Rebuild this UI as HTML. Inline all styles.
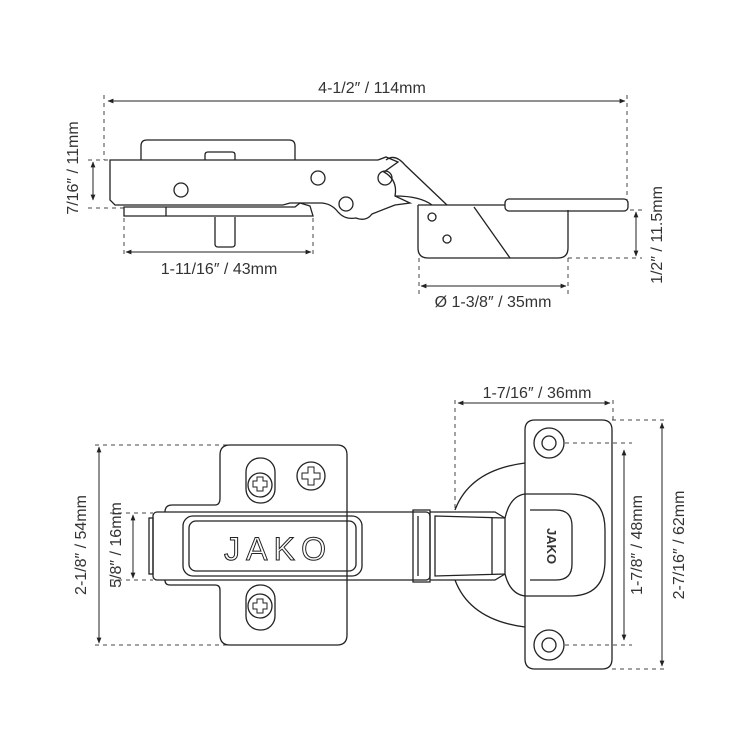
<!DOCTYPE html>
<html><head><meta charset="utf-8"><style>
html,body{margin:0;padding:0;background:#fff;}
svg{display:block}
text{font-family:"Liberation Sans",sans-serif;font-size:16px;fill:#333}
</style></head><body>
<svg width="750" height="750" viewBox="0 0 750 750" xmlns="http://www.w3.org/2000/svg">
<defs>
<marker id="a" viewBox="0 0 10 10" refX="9" refY="5" markerWidth="6" markerHeight="6" orient="auto-start-reverse"><path d="M0,1 L10,5 L0,9 z" fill="#222"/></marker>
</defs>
<g fill="none" stroke="#222" stroke-width="1.3">
<g stroke-dasharray="4,4" stroke="#444" stroke-width="1">
<line x1="104" y1="95" x2="104" y2="160"/><line x1="627" y1="95" x2="627" y2="200"/>
<line x1="88" y1="160" x2="110" y2="160"/><line x1="88" y1="208" x2="124" y2="208"/>
<line x1="124" y1="218" x2="124" y2="256"/><line x1="313" y1="218" x2="313" y2="256"/>
<line x1="419" y1="258" x2="419" y2="295"/><line x1="568" y1="258" x2="568" y2="295"/>
<line x1="630" y1="210" x2="642" y2="210"/><line x1="568" y1="258" x2="642" y2="258"/>
<line x1="95" y1="445" x2="240" y2="445"/><line x1="95" y1="645" x2="240" y2="645"/>
<line x1="110" y1="513" x2="153" y2="513"/><line x1="110" y1="580" x2="153" y2="580"/>
<line x1="455" y1="400" x2="455" y2="510"/><line x1="613" y1="400" x2="613" y2="420"/>
<line x1="565" y1="443" x2="632" y2="443"/><line x1="565" y1="645" x2="632" y2="645"/>
<line x1="612" y1="420" x2="665" y2="420"/><line x1="612" y1="669" x2="665" y2="669"/>
</g>
<g stroke-width="1" marker-start="url(#a)" marker-end="url(#a)">
<line x1="108" y1="101" x2="625" y2="101"/>
<line x1="93" y1="162" x2="93" y2="200"/>
<line x1="126" y1="252" x2="311" y2="252"/>
<line x1="421" y1="286" x2="566" y2="286"/>
<line x1="636" y1="212" x2="636" y2="256"/>
<line x1="99" y1="447" x2="99" y2="643"/>
<line x1="133" y1="515" x2="133" y2="578"/>
<line x1="458" y1="403" x2="610" y2="403"/>
<line x1="624" y1="450" x2="624" y2="640"/>
<line x1="662" y1="423" x2="662" y2="666"/>
</g>
<path d="M141,160 V146 Q141,140 147,140 H289 Q295,140 295,146 V160"/>
<path d="M205,160 V155 Q205,152 208,152 H232 Q235,152 235,155 V160"/>
<path d="M110,160 H378 L386,157 L398,162 L384,172 Q398,180 395,196 L410,203 L395,205 Q382,210 372,214 Q366,222 356,218 Q345,220 338,212 Q332,204 322,203 H290 L283,205 H115 L110,200 Z"/>
<path d="M124,207 H295 L300,203 L310,206 L313,216 H124 Z M166,207 V216"/>
<path d="M215,217 V244 Q215,247 218,247 H232 Q235,247 235,244 V217"/>
<circle cx="181" cy="190" r="7"/><circle cx="318" cy="178" r="7"/><circle cx="346" cy="204" r="7"/><circle cx="385" cy="178" r="7"/>
<path d="M386,160 Q395,153 405,165 L447,205"/>
<path d="M395,196 Q420,196 432,205"/>
<path d="M418,205 H505 M418,205 V248 Q418,258 428,258 H558 Q568,258 568,248 V210"/>
<rect x="505" y="199" width="123" height="12" rx="4"/>
<path d="M474,207 L510,258"/>
<circle cx="432" cy="217" r="4"/><circle cx="447" cy="239" r="4"/>
<path d="M220,482 V455 Q220,445 230,445 H337 Q347,445 347,455 V635 Q347,645 337,645 H230 Q220,645 220,635 V590 Q220,585 215,585 H170 Q165,585 165,580 M165,512 Q165,505 172,505 H215 Q220,505 220,498 V482"/>
<rect x="153" y="512" width="277" height="68" rx="4"/>
<rect x="149" y="518" width="4" height="56"/>
<rect x="183" y="516" width="179" height="60" rx="10"/>
<rect x="189" y="521" width="167" height="50" rx="7"/>
<text x="224" y="560" style="font-size:32px;fill:none;stroke:#222;stroke-width:1" textLength="102">JAKO</text>
<rect x="246" y="458" width="29" height="45" rx="14"/><circle cx="260" cy="485" r="12"/>
<rect x="246" y="585" width="29" height="45" rx="14"/><circle cx="260" cy="606" r="12"/>
<circle cx="311" cy="476" r="14"/>
<g stroke-width="1">
<path d="M257,478 h-4 v6 h4 v4 h6 v-4 h4 v-6 h-4 v-4 h-6 z" transform="translate(0,3)"/>
<path d="M257,603 h-4 v6 h4 v4 h6 v-4 h4 v-6 h-4 v-4 h-6 z"/>
<path d="M308,470 h-6 v6 h6 v6 h6 v-6 h6 v-6 h-6 v-6 h-6 z" transform="translate(0,3)"/>
</g>
<path d="M413,510 H430 V582 H413 Z M418,516 V576 M430,512 H495 L505,518 M430,580 H495 L505,574"/>
<path d="M435,516 L505,518 V574 L435,576 Z M492,517 V575"/>
<path d="M525,463 Q470,470 455,510 M525,627 Q470,620 455,580"/>
<path d="M535,420 H602 Q612,420 612,430 V659 Q612,669 602,669 H535 Q525,669 525,659 V430 Q525,420 535,420 Z"/>
<path d="M505,518 Q510,496 525,494 H570 Q605,494 605,530 V560 Q605,596 570,596 H525 Q510,594 505,574"/>
<path d="M530,510 H556 Q572,510 572,526 V564 Q572,580 556,580 H530"/>
<circle cx="549" cy="443" r="15"/><circle cx="549" cy="443" r="7"/>
<circle cx="549" cy="645" r="15"/><circle cx="549" cy="645" r="7"/>
</g>
<text x="372" y="93" text-anchor="middle">4-1/2″ / 114mm</text>
<text x="219" y="274" text-anchor="middle">1-11/16″ / 43mm</text>
<text x="493" y="307" text-anchor="middle">Ø 1-3/8″ / 35mm</text>
<text x="537" y="398" text-anchor="middle">1-7/16″ / 36mm</text>
<text transform="translate(78,168) rotate(-90)" text-anchor="middle">7/16″ / 11mm</text>
<text transform="translate(662,235) rotate(-90)" text-anchor="middle">1/2″ / 11.5mm</text>
<text transform="translate(86,545) rotate(-90)" text-anchor="middle">2-1/8″ / 54mm</text>
<text transform="translate(121,545) rotate(-90)" text-anchor="middle">5/8″ / 16mm</text>
<text transform="translate(642,545) rotate(-90)" text-anchor="middle">1-7/8″ / 48mm</text>
<text transform="translate(684,545) rotate(-90)" text-anchor="middle">2-7/16″ / 62mm</text>
<text transform="translate(547,546) rotate(90)" text-anchor="middle" style="font-size:13px;font-weight:bold">JAKO</text>
</svg>
</body></html>
